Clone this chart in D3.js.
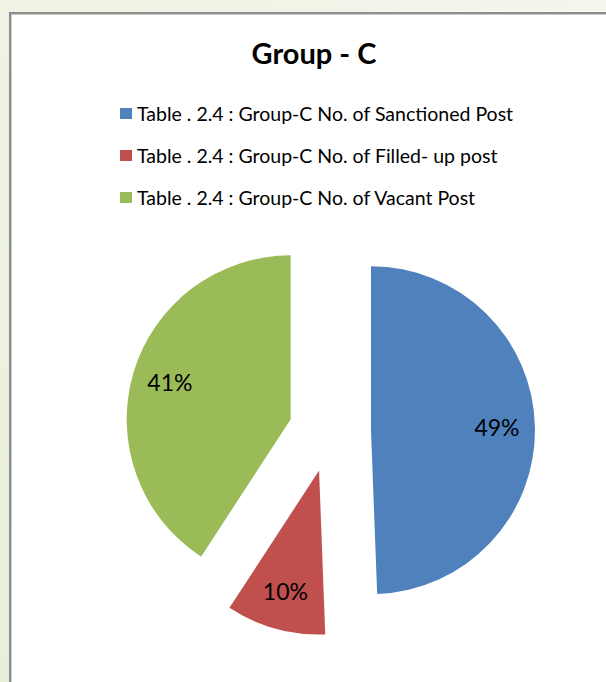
<!DOCTYPE html>
<html>
<head>
<meta charset="utf-8">
<script src="https://cdn.jsdelivr.net/npm/d3@7"></script>
<style>
    body { margin: 0; background: #eef3e3; }
    svg { display: block; }
    text { font-family: Lato, "Open Sans", sans-serif; fill: #000; }
</style>
</head>
<body>
<svg id="chart"></svg>
<script>
//Data
const title = 'Group - C';
const categories = [
    'Table . 2.4 : Group-C No. of Sanctioned Post',
    'Table . 2.4 : Group-C No. of Filled- up post',
    'Table . 2.4 : Group-C No. of Vacant Post'
];
const shares = [49.4, 9.8, 40.8];
const colors = ['#4f81bd', '#c0504d', '#9bbb59'];

//Layout
const [width, height] = [606, 682];
const [cx, cy, radius, explode, labelRadius] = [330, 431, 164, 41, 126];
const [legendX, legendY, legendStep] = [120, 108, 42];

const svg = d3.select('#chart')
    .attr('width', width)
    .attr('height', height);

// page background + chart frame
const grad = svg.append('defs').append('linearGradient')
    .attr('id', 'bg')
    .attr('x1', 1).attr('y1', 0).attr('x2', 0).attr('y2', 1);
grad.append('stop').attr('offset', 0).attr('stop-color', '#f4f6ec');
grad.append('stop').attr('offset', 1).attr('stop-color', '#e8f0da');

svg.append('rect')
    .attr('width', width)
    .attr('height', height)
    .attr('fill', 'url(#bg)');

svg.append('rect')
    .attr('x', 10).attr('y', 13)
    .attr('width', 700).attr('height', 700)
    .attr('fill', '#fff')
    .attr('stroke', '#8c8c8c')
    .attr('stroke-width', 2);
svg.append('rect')
    .attr('x', 11.5).attr('y', 14.5)
    .attr('width', 700).attr('height', 700)
    .attr('fill', 'none')
    .attr('stroke', '#cfcfcf')
    .attr('stroke-width', 1);

// title
svg.append('text')
    .attr('x', 314)
    .attr('y', 64)
    .attr('text-anchor', 'middle')
    .style('font-size', '29px')
    .style('font-weight', 'bold')
    .text(title);

// legend
const legend = svg.append('g').attr('id', 'legend');
const rows = legend.selectAll('g')
    .data(categories)
    .enter().append('g')
    .attr('transform', (d, i) => 'translate(' + legendX + ',' + (legendY + i * legendStep) + ')');
rows.append('rect')
    .attr('width', 12)
    .attr('height', 11)
    .attr('fill', (d, i) => colors[i]);
rows.append('text')
    .attr('x', 17)
    .attr('y', 12.5)
    .style('font-size', '19.5px')
    .text(d => d);

// pie
const pie = d3.pie().sort(null).value(d => d);
const arc = d3.arc().innerRadius(0).outerRadius(radius);
const labelArc = d3.arc().innerRadius(labelRadius).outerRadius(labelRadius);

const slices = svg.append('g')
    .attr('transform', 'translate(' + cx + ',' + cy + ')')
    .selectAll('g')
    .data(pie(shares))
    .enter().append('g')
    .attr('transform', d => {
        const mid = (d.startAngle + d.endAngle) / 2;
        return 'translate(' + explode * Math.sin(mid) + ',' + (-explode * Math.cos(mid)) + ')';
    });

slices.append('path')
    .attr('d', arc)
    .attr('fill', (d, i) => colors[i]);

slices.append('text')
    .attr('transform', d => 'translate(' + labelArc.centroid(d) + ')')
    .attr('text-anchor', 'middle')
    .attr('dy', '0.35em')
    .style('font-size', '23px')
    .text(d => Math.round(d.value) + '%');
</script>
</body>
</html>
